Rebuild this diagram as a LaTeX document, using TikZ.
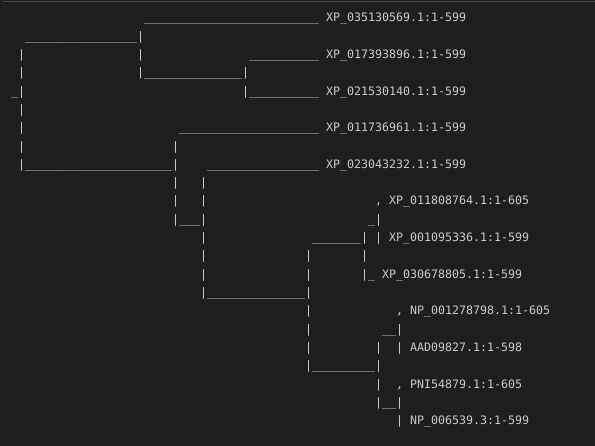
\documentclass[tikz,border=0pt]{standalone}
\usepackage{fontspec}
\usepackage{xcolor}
\newfontfamily\treefont{DejaVu Sans Mono}
\definecolor{bg}{HTML}{1E1E1E}
\definecolor{ink}{HTML}{CCCCCC}
\definecolor{rim}{HTML}{474747}

\begin{document}
\begin{tikzpicture}[x=7pt,y=-18.32pt]
    \tikzset{glyph/.style = {font=\fontsize{11.63pt}{14pt}\selectfont\treefont, text=ink, anchor=base west, inner sep=0pt, outer sep=0pt}}
    \tikzset{leaf/.style = {glyph}}

    % canvas
    \fill[bg] (-0.5714,-0.19) rectangle (84.4286,24.155);
    \useasboundingbox (-0.5714,-0.19) rectangle (84.4286,24.155);
    \draw[rim, line width=1pt] (-0.1429,-0.0808) -- (84.4286,-0.0808);

    % branches
    \foreach \r/\a/\b in {1/20/44, 2/3/18, 3/35/44, 4/20/33, 5/1/1, 5/35/44, 7/25/44, 9/3/23, 9/29/44, 12/25/27, 12/52/52, 13/44/50, 15/52/52, 16/29/42, 18/54/55, 20/44/52, 22/54/55}
    {
      \foreach \c in {\a,...,\b} {\node[glyph] (u-\r-\c) at (\c,\r) {\_};}
    }
    \foreach \c/\a/\b in {2/3/9, 19/2/4, 34/4/5, 24/8/12, 28/10/16, 43/14/20, 51/13/15, 53/12/13, 53/19/22, 56/18/19, 56/22/23}
    {
      \foreach \r in {\a,...,\b} {\node[glyph] (p-\c-\r) at (\c,\r) {|};}
    }
    \foreach \r/\c in {11/53, 17/56, 21/56} {\node[glyph] (k-\r) at (\c,\r) {,};}

    % leaves
    \foreach \r/\c/\n in {1/46/XP\_035130569.1:1-599, 3/46/XP\_017393896.1:1-599, 5/46/XP\_021530140.1:1-599, 7/46/XP\_011736961.1:1-599, 9/46/XP\_023043232.1:1-599, 11/55/XP\_011808764.1:1-605, 13/55/XP\_001095336.1:1-599, 15/54/XP\_030678805.1:1-599, 17/58/NP\_001278798.1:1-605, 19/58/AAD09827.1:1-598, 21/58/PNI54879.1:1-605, 23/58/NP\_006539.3:1-599}
    {
      \node[leaf] (leaf\r) at (\c,\r) {\n};
    }

\end{tikzpicture}
\end{document}
